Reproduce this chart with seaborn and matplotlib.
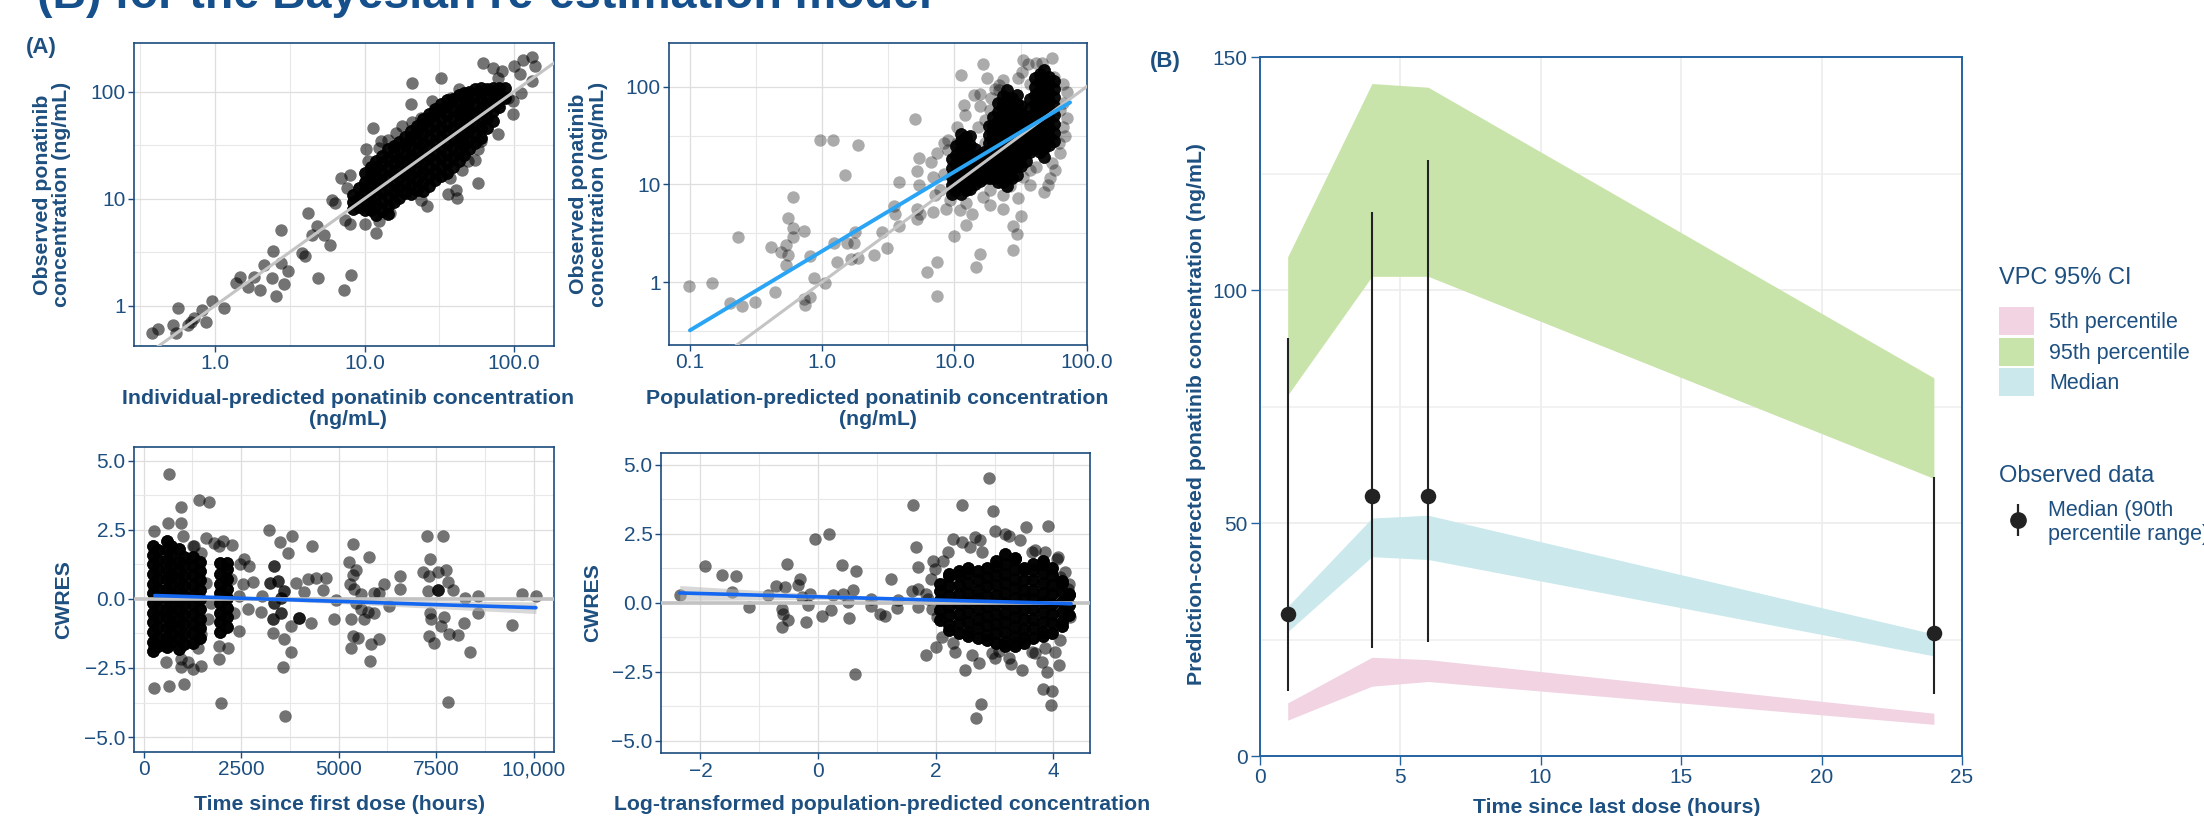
import numpy as np
import pandas as pd
import matplotlib
matplotlib.use("Agg")
import matplotlib.pyplot as plt
import seaborn as sns
from matplotlib.patches import Patch
from matplotlib.lines import Line2D
from matplotlib.legend_handler import HandlerTuple

# ---------------- data ----------------
# (A) top-left: observed vs individual-predicted, log10 ng/mL
tl_ipred_log10 = [-0.42, -0.38, -0.28, -0.25, -0.26, -0.18, -0.16, -0.14, -0.09, -0.06,
                  -0.02, 0.06, 0.14, 0.17, 0.22, 0.26, 0.30, 0.33, 0.38, 0.39,
                  0.41, 0.44, 0.46, 0.49, 0.44, 0.58, 0.60, 0.62, 0.65, 0.68,
                  0.69, 0.73, 0.77, 0.78, 0.80, 0.86, 0.91, 0.84, 0.88, 0.87,
                  0.90, 1.00, 1.08, 1.10, 1.17, 1.06, 1.01, 1.11, 1.10, 1.02,
                  1.21, 1.32, 1.31, 1.32, 1.45, 1.51, 1.42, 1.38, 1.56, 1.62,
                  1.61, 1.57, 1.65, 1.69, 1.74, 1.76, 1.89, 1.99, 1.99, 2.05,
                  2.12, 1.79, 1.86, 2.00, 2.06, 2.12, 2.14, 2.04, 1.92, 1.89,
                  1.63, 1.58, 1.47, 1.38, 1.25, 1.16, 1.09, 1.00, 0.90, 1.76,
                  1.78, 1.89, 1.96]
tl_obs_log10 = [-0.26, -0.22, -0.18, -0.02, -0.26, -0.18, -0.15, -0.12, -0.04, -0.15,
                0.04, -0.02, 0.21, 0.27, 0.17, 0.27, 0.15, 0.38, 0.26, 0.51,
                0.09, 0.40, 0.20, 0.32, 0.71, 0.49, 0.46, 0.87, 0.66, 0.74,
                0.26, 0.66, 0.57, 0.99, 0.96, 0.15, 0.29, 1.19, 1.10, 0.80,
                0.76, 0.76, 0.68, 0.79, 0.87, 1.66, 1.46, 1.54, 1.47, 1.35,
                1.61, 2.08, 1.88, 1.72, 1.91, 2.13, 0.93, 0.99, 1.04, 1.01,
                1.08, 1.19, 1.27, 1.35, 1.36, 1.46, 1.60, 1.79, 1.91, 1.99,
                2.10, 2.27, 2.22, 2.24, 2.30, 2.32, 2.24, 2.16, 2.19, 2.13,
                2.02, 1.94, 1.83, 1.75, 1.68, 1.55, 1.18, 1.15, 1.22, 1.15,
                1.54, 1.89, 1.94]
# dense core (many overlapping observations), by column
tl_core_ipred_log10 = [0.92, 0.96, 1.00, 1.04, 1.08, 1.12, 1.16, 1.195, 1.23, 1.27, 1.31, 1.35, 1.39, 1.43,
                       1.47, 1.51, 1.55, 1.59, 1.63, 1.665, 1.70, 1.74, 1.78, 1.82, 1.86, 1.90, 1.94]
tl_core_obs_log10 = [[0.90, 0.97, 1.03],
                     [0.92, 1.01, 1.10],
                     [0.89, 0.98, 1.07, 1.16, 1.24],
                     [0.89, 0.98, 1.07, 1.16, 1.25, 1.30],
                     [0.85, 0.94, 1.03, 1.12, 1.21, 1.30, 1.35],
                     [0.88, 0.97, 1.06, 1.15, 1.24, 1.33, 1.40],
                     [0.86, 0.93, 1.02, 1.11, 1.20, 1.29, 1.38, 1.46],
                     [0.97, 1.06, 1.15, 1.24, 1.33, 1.42, 1.49],
                     [1.01, 1.10, 1.19, 1.28, 1.37, 1.46, 1.53],
                     [1.05, 1.14, 1.23, 1.32, 1.41, 1.50, 1.58],
                     [1.04, 1.13, 1.22, 1.31, 1.40, 1.49, 1.58, 1.63],
                     [1.08, 1.17, 1.26, 1.35, 1.44, 1.53, 1.62, 1.68],
                     [1.07, 1.16, 1.25, 1.34, 1.43, 1.52, 1.61, 1.70, 1.74],
                     [1.12, 1.21, 1.30, 1.39, 1.48, 1.57, 1.66, 1.75, 1.79],
                     [1.17, 1.26, 1.35, 1.44, 1.53, 1.62, 1.71, 1.80, 1.84],
                     [1.21, 1.30, 1.39, 1.48, 1.57, 1.66, 1.75, 1.84, 1.88],
                     [1.24, 1.33, 1.42, 1.51, 1.60, 1.69, 1.78, 1.87, 1.92],
                     [1.30, 1.39, 1.48, 1.57, 1.66, 1.75, 1.84, 1.93],
                     [1.35, 1.44, 1.53, 1.62, 1.71, 1.80, 1.89, 1.97],
                     [1.41, 1.50, 1.59, 1.68, 1.77, 1.86, 1.95, 1.99],
                     [1.46, 1.55, 1.64, 1.73, 1.82, 1.91, 2.00],
                     [1.52, 1.61, 1.70, 1.79, 1.88, 1.97, 2.02],
                     [1.57, 1.66, 1.75, 1.84, 1.93, 2.03],
                     [1.66, 1.75, 1.84, 1.93, 2.02],
                     [1.73, 1.82, 1.91, 2.00, 2.03],
                     [1.86, 1.95, 2.03],
                     [1.94, 2.03]]

# (A) top-right: observed vs population-predicted, log10 ng/mL
tr_pred_log10 = [-1.01, -0.83, -0.70, -0.61, -0.51, -0.64, -0.39, -0.36, -0.31, -0.26,
                 -0.27, -0.26, -0.27, -0.22, -0.22, -0.22, -0.14, -0.09, -0.14, -0.13,
                 -0.09, -0.06, 0.02, -0.02, 0.08, 0.27, 0.17, 0.09, 0.11, 0.19,
                 0.22, 0.24, 0.25, 0.27, 0.39, 0.45, 0.49, 0.54, 0.55, 0.58,
                 0.58, 0.70, 0.73, 0.72, 0.73, 0.72, 0.72, 0.74, 0.79, 0.87,
                 0.87, 0.84, 0.85, 1.00, 1.09, 1.16, 1.19, 1.44, 1.47, 1.44,
                 1.50, 1.48, 1.37, 1.27, 1.05, 1.22, 1.25, 1.15, 1.19, 1.07,
                 1.19, 1.08, 1.28, 1.31, 1.52, 1.56, 1.51, 1.66, 1.74, 1.75,
                 1.85, 1.85, 1.82, 1.76, 1.72, 1.68, 1.71, 1.57, 1.42, 1.22,
                 1.13, 1.04, 0.94, 0.89, 0.82, 0.87, 0.95, 0.95, 0.92, 0.99,
                 1.60, 1.52, 1.79, 1.80, 1.34,
                 0.92, 1.02, 1.27, 1.37, 1.57, 1.58, 1.82, 1.80, 1.74, 1.57,
                 1.37, 1.27, 1.09, 0.97, 0.84, 1.84, 1.62, 1.52, 1.23, 1.18,
                 1.34, 1.48, 1.62, 1.82, 1.02, 1.23]
tr_obs_log10 = [-0.04, -0.01, -0.21, -0.25, -0.20, 0.46, 0.36, -0.10, 0.31, 0.66,
                0.38, 0.28, 0.17, 0.87, 0.55, 0.46, 0.52, 0.27, -0.17, -0.24,
                -0.15, 0.04, -0.01, 1.45, 1.45, 1.40, 1.10, 0.40, 0.20, 0.40,
                0.24, 0.40, 0.51, 0.25, 0.28, 0.51, 0.35, 0.78, 0.70, 0.57,
                1.02, 1.67, 1.27, 1.14, 0.99, 0.75, 0.65, 0.70, 0.10, 0.20,
                -0.14, 0.72, 0.89, 0.47, 0.58, 0.15, 0.29, 0.33, 0.49, 0.57,
                0.68, 0.86, 0.75, 0.79, 2.12, 2.23, 2.09, 1.92, 1.93, 1.81,
                1.80, 1.71, 1.88, 1.98, 2.27, 2.23, 2.15, 2.24, 2.29, 2.10,
                1.95, 1.68, 1.59, 1.15, 1.06, 0.92, 0.99, 1.15, 0.98, 0.87,
                0.70, 0.74, 0.75, 0.94, 1.23, 1.32, 1.45, 1.35, 1.11, 0.94,
                1.35, 1.42, 1.42, 1.76, 2.02,
                1.42, 1.59, 1.76, 2.07, 2.03, 1.71, 1.83, 1.32, 1.22, 0.99,
                0.89, 0.94, 0.81, 0.84, 1.08, 1.49, 1.18, 1.08, 1.66, 1.59,
                1.97, 2.09, 2.24, 2.03, 1.42, 1.42]
tr_core_pred_log10 = [0.98, 1.015, 1.05, 1.085, 1.12, 1.155, 1.19, 1.225, 1.26, 1.295, 1.33, 1.365,
                      1.40, 1.435, 1.47, 1.505, 1.54, 1.575, 1.61, 1.645, 1.68, 1.715, 1.75]
tr_core_obs_log10 = [[0.90, 0.99, 1.08, 1.17, 1.26],
                     [0.94, 1.03, 1.12, 1.21, 1.30, 1.39],
                     [0.90, 0.99, 1.08, 1.17, 1.26, 1.35, 1.44, 1.52],
                     [0.94, 1.03, 1.12, 1.21, 1.30, 1.39, 1.48],
                     [0.95, 1.04, 1.13, 1.22, 1.31, 1.40, 1.49],
                     [1.00, 1.09, 1.18, 1.27, 1.36],
                     [1.03, 1.12, 1.21, 1.30],
                     [1.06, 1.15, 1.24, 1.33],
                     [1.06, 1.15, 1.24, 1.33, 1.42, 1.51, 1.60],
                     [1.06, 1.15, 1.24, 1.33, 1.42, 1.51, 1.60, 1.69],
                     [1.02, 1.11, 1.20, 1.29, 1.38, 1.47, 1.56, 1.65, 1.74, 1.83],
                     [1.02, 1.11, 1.20, 1.29, 1.38, 1.47, 1.56, 1.65, 1.74, 1.83, 1.90],
                     [0.98, 1.07, 1.16, 1.25, 1.34, 1.43, 1.52, 1.61, 1.70, 1.79, 1.88, 1.97],
                     [1.07, 1.16, 1.25, 1.34, 1.43, 1.52, 1.61, 1.70, 1.79, 1.88],
                     [1.10, 1.19, 1.28, 1.37, 1.46, 1.55, 1.64, 1.73, 1.82, 1.91],
                     [1.19, 1.28, 1.37, 1.46, 1.55, 1.64, 1.73, 1.80],
                     [1.24, 1.33, 1.42, 1.51, 1.60, 1.69],
                     [1.33, 1.42, 1.51, 1.60, 1.69, 1.78, 1.87],
                     [1.37, 1.46, 1.55, 1.64, 1.73, 1.82, 1.91, 2.00, 2.09],
                     [1.33, 1.42, 1.51, 1.60, 1.69, 1.78, 1.87, 1.96, 2.05, 2.13],
                     [1.28, 1.37, 1.46, 1.55, 1.64, 1.73, 1.82, 1.91, 2.00, 2.09, 2.17],
                     [1.40, 1.49, 1.58, 1.67, 1.76, 1.85, 1.94, 2.03, 2.10],
                     [1.44, 1.53, 1.62, 1.71, 1.80, 1.89, 1.98, 2.06]]
tr_fit_pred = [0.1, 75.0]
tr_fit_obs = [0.32, 69.0]
identity = [0.01, 1000.0]

# (A) bottom-left: CWRES vs time since first dose (h)
bl_time = [658, 1411, 1667, 958, 616, 958, 274, 1000, 1599, 2026,
           2257, 1941, 1257, 3223, 3497, 3805, 4309, 3694, 2582, 2480,
           2710, 2796, 2539, 3035, 3010, 2668, 2454, 3309, 3608, 3779,
           3565, 3625, 1984, 1941, 2155, 1924, 1471, 1257, 1026, 641,
           274, 573, 958, 1471, 1385, 3907, 4207, 4420, 4677, 4592,
           4121, 4292, 3993, 3779, 4891, 4933, 5361, 5258, 5446, 5361,
           5301, 5404, 5575, 5446, 5575, 5746, 5318, 5660, 5917, 5361,
           5318, 5489, 5831, 6045, 5814, 5788, 5899, 6173, 6301, 6584,
           6584, 6045, 7268, 7669, 7345, 7157, 7328, 7755, 7541, 7814,
           7285, 7558, 7926, 7353, 7712, 7370, 7627, 7840, 8054, 7328,
           7456, 8208, 8371, 7814, 8251, 8567, 8567, 9439, 9696, 10063,
           958, 1128, 573, 274, 1599, 1727, 1642, 2326, 2454, 2240,
           1813, 1471, 1300]
bl_cwres = [4.51, 3.58, 3.52, 3.34, 2.76, 2.76, 2.44, 2.26, 2.20, 2.10,
            1.96, 1.92, 1.92, 2.50, 2.04, 2.28, 1.90, 1.66, 1.44, 1.27,
            1.18, 0.60, 0.52, 0.10, -0.48, -0.38, -1.16, -1.22, -1.44, -1.94,
            -2.48, -4.25, -3.75, -2.18, -1.76, -1.70, -2.42, -2.52, -3.09, -3.15,
            -3.24, -2.30, -2.48, -1.28, -1.76, 0.58, 0.72, 0.76, 0.76, 0.31,
            0.24, -0.89, -0.68, -0.98, -0.72, -0.05, 1.98, 1.32, 1.03, 0.88,
            0.52, 0.34, 0.16, -0.14, -0.38, -0.47, -0.74, -0.74, -0.50, -1.34,
            -1.76, -1.40, -1.64, -1.44, -2.24, 1.50, 0.22, 0.52, -0.26, 0.82,
            0.34, 0.22, 2.28, 2.26, 1.44, 0.96, 0.84, 1.03, 0.96, 0.60,
            0.28, 0.31, 0.31, -0.50, -0.65, -0.74, -0.98, -1.28, -1.31, -1.34,
            -1.58, -0.89, -1.91, -3.72, 0.04, 0.12, -0.50, -0.95, 0.19, 0.12,
            -2.18, -2.30, -1.70, -1.70, 0.58, -0.14, -0.74, -0.50, 0.10, 0.70,
            2.02, 1.66, 1.90]
bl_dark_time = [3335, 3249, 3437, 3608, 3309, 3523, 3993, 3352, 3523, 7541]
bl_dark_cwres = [1.20, 0.58, 0.64, 0.28, -0.74, -0.50, -0.68, -0.14, 0.04, 0.31]
bl_core_time = [231, 376, 590, 701, 915, 1043, 1257, 1454, 1967, 2138]
bl_core_cwres = [[-1.9, -1.55, -1.2, -0.85, -0.5, -0.15, 0.2, 0.55, 0.9, 1.25, 1.6, 1.9],
                 [-1.72, -1.37, -1.02, -0.67, -0.32, 0.02, 0.37, 0.72, 1.07, 1.42, 1.75],
                 [-1.75, -1.4, -1.05, -0.7, -0.35, 0.0, 0.35, 0.7, 1.05, 1.4, 1.75, 2.1],
                 [-1.57, -1.22, -0.87, -0.52, -0.17, 0.17, 0.52, 0.87, 1.22, 1.57, 1.92],
                 [-1.8, -1.45, -1.1, -0.75, -0.4, -0.05, 0.3, 0.65, 1.0, 1.35, 1.8],
                 [-1.62, -1.27, -0.92, -0.57, -0.22, 0.12, 0.47, 0.82, 1.17, 1.52],
                 [-1.6, -1.25, -0.9, -0.55, -0.2, 0.15, 0.5, 0.85, 1.2, 1.5],
                 [-1.42, -1.07, -0.72, -0.37, -0.02, 0.32, 0.67, 1.02, 1.35],
                 [-1.2, -0.85, -0.5, -0.15, 0.2, 0.55, 0.9, 1.3],
                 [-1.02, -0.67, -0.32, 0.02, 0.37, 0.72, 1.07, 1.3]]
bl_fit_time = [290, 2000, 5000, 7500, 10060]
bl_fit = [0.12, 0.045, -0.09, -0.21, -0.32]
bl_fit_lo = [0.06, 0.015, -0.17, -0.35, -0.53]
bl_fit_hi = [0.18, 0.075, -0.01, -0.07, -0.11]

# (A) bottom-right: CWRES vs log-transformed population prediction
br_pred = [-2.35, -1.93, -1.63, -1.40, -1.47, -1.18, -0.72, -0.85, -0.57, -0.53,
           -0.34, -0.31, -0.28, -0.14, -0.62, -0.59, -0.51, -0.62, -0.21, -0.17,
           -0.05, 0.18, 0.40, 0.64, 0.06, 0.22, 0.26, 0.43, 0.51, 0.60,
           0.53, 0.62, 0.90, 0.90, 1.05, 1.14, 1.24, 1.34, 1.36, 1.62,
           1.66, 1.60, 1.70, 1.70, 1.70, 1.83, 1.92, 2.13, 1.96, 1.83,
           2.00, 2.02, 2.29, 2.44, 2.67, 2.75, 3.00, 3.18, 2.91, 2.98,
           3.54, 3.90, 3.69, 4.08, 4.25, 4.29, 4.23, 2.49, 2.74, 2.61,
           2.30, 2.77, 2.68, 3.28, 3.46, 3.63, 3.83, 3.98, 3.96, 3.89,
           4.09, 4.12, 2.95, 3.07, 3.86, 4.12, 4.26, 3.35, 3.69, 3.80,
           2.44, 2.21, 2.58, 2.78, 3.24, 3.43, 3.63, 3.86, 4.06, 4.20,
           1.99, 1.87, 1.93, 2.10, 2.33, 3.01, 3.24, 4.03]
br_cwres = [0.27, 1.33, 1.01, 0.96, 0.39, -0.16, 0.60, 0.27, 0.57, 1.41,
            0.65, 0.84, 0.20, 0.33, -0.22, -0.40, -0.64, -0.90, -0.70, -0.10,
            2.29, 2.49, 1.35, 1.14, -0.48, -0.28, 0.29, 0.33, 0.02, 0.45,
            -0.54, -2.60, 0.14, -0.12, -0.40, -0.48, 0.87, -0.19, 0.08, 3.55,
            2.01, 0.41, 0.51, -0.16, 1.29, 0.33, 0.87, 1.49, 1.49, -1.90,
            -1.60, -0.52, 2.29, 3.52, 2.37, 2.25, 2.59, 2.49, 4.52, 3.31,
            2.73, 2.77, 1.89, 1.67, 0.51, -0.52, 0.02, -2.45, -2.18, -1.90,
            -1.48, -3.67, -4.19, -2.24, -2.45, -1.78, -3.13, -3.20, -3.71, -2.51,
            -2.27, -1.36, -1.84, -1.76, -1.66, 0.93, 0.69, -1.48, -1.84, -2.14,
            2.19, 1.83, 2.01, 1.83, 2.43, 2.25, 1.83, 1.83, 1.59, 1.11,
            1.23, 0.14, -0.22, -1.24, -1.78, -2.02, -2.02, -1.78]
br_core_pred = [2.07, 2.23, 2.39, 2.55, 2.71, 2.87, 3.03, 3.18, 3.34, 3.50, 3.66, 3.82, 3.98, 4.14, 4.27]
br_core_cwres = [[-0.62, -0.27, 0.08, 0.43, 0.67],
                 [-0.98, -0.81, -0.46, -0.11, 0.25, 0.60, 0.95, 1.03],
                 [-1.1, -0.75, -0.4, -0.05, 0.3, 0.65, 1.0, 1.15],
                 [-1.22, -1.05, -0.70, -0.35, 0.01, 0.36, 0.71, 1.06, 1.27],
                 [-1.28, -0.93, -0.58, -0.23, 0.12, 0.47, 0.82, 1.15],
                 [-1.34, -1.17, -0.82, -0.47, -0.12, 0.24, 0.59, 0.94, 1.27],
                 [-1.46, -1.11, -0.76, -0.41, -0.06, 0.29, 0.64, 0.99, 1.34, 1.51],
                 [-1.58, -1.41, -1.06, -0.71, -0.36, -0.01, 0.35, 0.70, 1.05, 1.40, 1.75],
                 [-1.58, -1.23, -0.88, -0.53, -0.18, 0.17, 0.52, 0.87, 1.22, 1.57, 1.63],
                 [-1.46, -1.29, -0.94, -0.59, -0.24, 0.12, 0.47, 0.82, 1.17, 1.27],
                 [-1.28, -0.93, -0.58, -0.23, 0.12, 0.47, 0.82, 1.17, 1.39],
                 [-1.22, -1.05, -0.70, -0.35, 0.01, 0.36, 0.71, 1.06, 1.41, 1.51],
                 [-1.1, -0.75, -0.4, -0.05, 0.3, 0.65, 1.0, 1.27],
                 [-0.86, -0.69, -0.34, 0.02, 0.37, 0.72, 0.79],
                 [-0.44, -0.09, 0.26, 0.31]]
br_fit_pred = [-2.35, 0.0, 2.5, 3.3, 4.3]
br_fit = [0.35, 0.21, 0.065, 0.02, -0.04]
br_fit_lo = [0.08, 0.11, 0.025, -0.01, -0.08]
br_fit_hi = [0.62, 0.31, 0.105, 0.05, 0.0]

# (B) pcVPC
vpc_time = [1, 4, 6, 24]
p5_lo = [7.7, 15.0, 16.0, 6.8]
p5_hi = [11.4, 21.2, 20.7, 9.2]
med_lo = [26.7, 42.8, 42.2, 21.5]
med_hi = [32.1, 51.1, 51.7, 26.2]
p95_lo = [77.5, 103.0, 103.0, 59.6]
p95_hi = [107.2, 144.4, 143.6, 81.2]
obs_time = [1, 4, 6, 24]
obs_median = [30.5, 55.8, 55.8, 26.5]
obs_p5 = [13.9, 23.3, 24.4, 13.3]
obs_p95 = [89.8, 116.8, 128.0, 60.0]
vpc_labels = ["5th percentile", "95th percentile", "Median"]

# ---------------- styling ----------------
W, H = 2204, 816
NAVY = "#1b4b7c"
BLUE_B = "#2563a0"
TEXT = "#1d4f80"
TITLE = "#15508c"
PINK, GREEN, CYAN = "#f1d3e2", "#c9e4aa", "#cbe9ed"
DOT = "#222222"

sns.set_theme(style="white")
plt.rcParams["font.family"] = ["Liberation Sans", "DejaVu Sans"]

PT_SIZE = 80


def core_points(cols_x, cols_y, reps):
    xs, ys = [], []
    for x, col in zip(cols_x, cols_y):
        for y in col:
            xs += [x] * reps
            ys += [y] * reps
    return xs, ys


def style_axis(ax, spine_color, tick_len=4):
    for s in ax.spines.values():
        s.set_visible(True)
        s.set_color(spine_color)
        s.set_linewidth(1.2)
    ax.tick_params(which="major", direction="out", length=tick_len, width=1,
                   color=spine_color, labelcolor=TEXT, labelsize=15, pad=2,
                   bottom=True, left=True)
    ax.tick_params(which="minor", length=0, bottom=False, left=False)
    ax.grid(which="major", color="#dedede", lw=0.9)
    ax.grid(which="minor", color="#e8e8e8", lw=0.8)
    ax.set_axisbelow(True)
    ax.set_xlabel("")
    ax.set_ylabel("")


def axis_title(ax, x, y, text, rotation=0, ls=1.15):
    ax.text(x, y, text, transform=ax.transAxes, rotation=rotation, ha="center", va="center",
            fontsize=15.3, fontweight="bold", color=TEXT, linespacing=ls, multialignment="center")


fig = plt.figure(figsize=(W / 100, H / 100), dpi=100)
ax_tl = fig.add_axes([0.0608, 0.5760, 0.1906, 0.3710])
ax_tr = fig.add_axes([0.3035, 0.5772, 0.1897, 0.3697])
ax_bl = fig.add_axes([0.0608, 0.0784, 0.1906, 0.3734])
ax_br = fig.add_axes([0.2999, 0.0768, 0.1946, 0.3684])
ax_b = fig.add_axes([0.5715, 0.0735, 0.3187, 0.8561])

# --- top-left
cx, cy = core_points(tl_core_ipred_log10, tl_core_obs_log10, 4)
tl = pd.DataFrame({"ipred": 10 ** np.array(tl_ipred_log10 + cx), "obs": 10 ** np.array(tl_obs_log10 + cy)})
ax_tl.set_xscale("log")
ax_tl.set_yscale("log")
sns.scatterplot(data=tl, x="ipred", y="obs", ax=ax_tl, color="black", alpha=0.55,
                s=PT_SIZE, linewidth=0, legend=False, zorder=2)
sns.lineplot(x=identity, y=identity, ax=ax_tl, color="#c4c4c4", linewidth=2.2, zorder=3)
ax_tl.set_xlim(10 ** -0.542, 10 ** 2.268)
ax_tl.set_ylim(10 ** -0.377, 10 ** 2.452)
ax_tl.set_xticks([1, 10, 100], labels=["1.0", "10.0", "100.0"])
ax_tl.set_yticks([1, 10, 100], labels=["1", "10", "100"])
ax_tl.set_xticks([10 ** -0.5, 10 ** 0.5, 10 ** 1.5], minor=True)
ax_tl.set_yticks([10 ** 0.5, 10 ** 1.5], minor=True)
style_axis(ax_tl, NAVY)
axis_title(ax_tl, -0.195, 0.5, "Observed ponatinib\nconcentration (ng/mL)", rotation=90, ls=1.05)
axis_title(ax_tl, 0.51, -0.207, "Individual-predicted ponatinib concentration\n(ng/mL)")

# --- top-right
cx, cy = core_points(tr_core_pred_log10, tr_core_obs_log10, 7)
tr = pd.DataFrame({"pred": 10 ** np.array(tr_pred_log10 + cx), "obs": 10 ** np.array(tr_obs_log10 + cy)})
ax_tr.set_xscale("log")
ax_tr.set_yscale("log")
sns.scatterplot(data=tr, x="pred", y="obs", ax=ax_tr, color="black", alpha=0.33,
                s=PT_SIZE, linewidth=0, legend=False, zorder=2)
sns.lineplot(x=identity, y=identity, ax=ax_tr, color="#c4c4c4", linewidth=2.2, zorder=3)
sns.lineplot(x=tr_fit_pred, y=tr_fit_obs, ax=ax_tr, color="#2aa4f4", linewidth=2.8, zorder=4)
ax_tr.set_xlim(10 ** -1.159, 10 ** 2.003)
ax_tr.set_ylim(10 ** -0.645, 10 ** 2.444)
ax_tr.set_xticks([0.1, 1, 10, 100], labels=["0.1", "1.0", "10.0", "100.0"])
ax_tr.set_yticks([1, 10, 100], labels=["1", "10", "100"])
ax_tr.set_xticks([10 ** -0.5, 10 ** 0.5, 10 ** 1.5], minor=True)
ax_tr.set_yticks([10 ** -0.5, 10 ** 0.5, 10 ** 1.5], minor=True)
style_axis(ax_tr, NAVY)
axis_title(ax_tr, -0.192, 0.5, "Observed ponatinib\nconcentration (ng/mL)", rotation=90, ls=1.05)
axis_title(ax_tr, 0.499, -0.212, "Population-predicted ponatinib concentration\n(ng/mL)")

cw_ticks = [-5, -2.5, 0, 2.5, 5]
cw_labels = ["\u22125.0", "\u22122.5", "0.0", "2.5", "5.0"]
cw_minor = [-3.75, -1.25, 1.25, 3.75]

# --- bottom-left
cx, cy = core_points(bl_core_time, bl_core_cwres, 5)
dx, dy = core_points(bl_dark_time, [[v] for v in bl_dark_cwres], 2)
bl = pd.DataFrame({"time": bl_time + cx + dx, "cwres": bl_cwres + cy + dy})
sns.scatterplot(data=bl, x="time", y="cwres", ax=ax_bl, color="black", alpha=0.55,
                s=PT_SIZE, linewidth=0, legend=False, zorder=2)
ax_bl.axhline(0, color="#c2c2c2", linewidth=2.6, zorder=3)
ax_bl.fill_between(bl_fit_time, bl_fit_lo, bl_fit_hi, color="#b8b8b8", alpha=0.55, linewidth=0, zorder=3)
sns.lineplot(x=bl_fit_time, y=bl_fit, ax=ax_bl, color="#1467f0", linewidth=2.6, zorder=4)
ax_bl.set_xlim(-244, 10526)
ax_bl.set_ylim(-5.54, 5.48)
ax_bl.set_xticks([0, 2500, 5000, 7500, 10000], labels=["0", "2500", "5000", "7500", "10,000"])
ax_bl.set_xticks([1250, 3750, 6250, 8750], minor=True)
ax_bl.set_yticks(cw_ticks, labels=cw_labels)
ax_bl.set_yticks(cw_minor, minor=True)
style_axis(ax_bl, NAVY)
axis_title(ax_bl, -0.167, 0.502, "CWRES", rotation=90)
axis_title(ax_bl, 0.488, -0.171, "Time since first dose (hours)")

# --- bottom-right
cx, cy = core_points(br_core_pred, br_core_cwres, 5)
br = pd.DataFrame({"pred": br_pred + cx, "cwres": br_cwres + cy})
sns.scatterplot(data=br, x="pred", y="cwres", ax=ax_br, color="black", alpha=0.55,
                s=PT_SIZE, linewidth=0, legend=False, zorder=2)
ax_br.axhline(0, color="#c2c2c2", linewidth=2.6, zorder=3)
ax_br.fill_between(br_fit_pred, br_fit_lo, br_fit_hi, color="#b8b8b8", alpha=0.55, linewidth=0, zorder=3)
sns.lineplot(x=br_fit_pred, y=br_fit, ax=ax_br, color="#1467f0", linewidth=2.6, zorder=4)
ax_br.set_xlim(-2.67, 4.62)
ax_br.set_ylim(-5.46, 5.43)
ax_br.set_xticks([-2, 0, 2, 4], labels=["\u22122", "0", "2", "4"])
ax_br.set_xticks([-1, 1, 3], minor=True)
ax_br.set_yticks(cw_ticks, labels=cw_labels)
ax_br.set_yticks(cw_minor, minor=True)
style_axis(ax_br, NAVY)
axis_title(ax_br, -0.159, 0.5, "CWRES", rotation=90)
axis_title(ax_br, 0.515, -0.169, "Log-transformed population-predicted concentration")

# --- (B) VPC
for lo, hi, col in [(p5_lo, p5_hi, PINK), (p95_lo, p95_hi, GREEN), (med_lo, med_hi, CYAN)]:
    ax_b.fill_between(vpc_time, lo, hi, color=col, linewidth=0, zorder=1)
ax_b.vlines(obs_time, obs_p5, obs_p95, color=DOT, linewidth=1.5, zorder=3)
sns.scatterplot(x=obs_time, y=obs_median, ax=ax_b, color=DOT, s=125, linewidth=0, zorder=4, legend=False)
ax_b.set_xlim(0, 25)
ax_b.set_ylim(0, 150)
ax_b.set_xticks([0, 5, 10, 15, 20, 25])
ax_b.set_yticks([0, 50, 100, 150])
ax_b.set_yticks([25, 75, 125], minor=True)
style_axis(ax_b, BLUE_B, tick_len=6.5)
ax_b.grid(which="major", color="#ececec", lw=1.2)
ax_b.grid(which="minor", axis="y", color="#f0f0f0", lw=1.2)
ax_b.grid(which="minor", axis="x", visible=False)
for s in ax_b.spines.values():
    s.set_linewidth(1.4)
axis_title(ax_b, -0.0897, 0.489, "Prediction-corrected ponatinib concentration (ng/mL)", rotation=90)
axis_title(ax_b, 0.509, -0.074, "Time since last dose (hours)")

# legends
fig.text(1999 / W, 1 - 267.5 / H, "VPC 95% CI", fontsize=17, color=TEXT, ha="left", va="top")
handles = [Patch(facecolor=c, edgecolor="none") for c in (PINK, GREEN, CYAN)]
leg1 = ax_b.legend(handles, vpc_labels, loc="upper left", bbox_to_anchor=(1999 / W, 1 - 307 / H),
                   bbox_transform=fig.transFigure, frameon=False, fontsize=15.5, labelcolor=TEXT,
                   handlelength=1.63, handleheight=1.63, labelspacing=0.12, handletextpad=0.7,
                   borderpad=0, borderaxespad=0)
ax_b.add_artist(leg1)

fig.text(1999 / W, 1 - 464.5 / H, "Observed data", fontsize=17, color=TEXT, ha="left", va="top")
obs_handle = (Line2D([], [], marker="|", markersize=23, markeredgewidth=1.6, color=DOT, linestyle="none"),
              Line2D([], [], marker="o", markersize=11, color=DOT, linestyle="none"))
leg2 = ax_b.legend([obs_handle], ["Median (90th\npercentile range)"], loc="upper left",
                   bbox_to_anchor=(2003 / W, 1 - 500 / H), bbox_transform=fig.transFigure,
                   frameon=False, fontsize=15.5, labelcolor=TEXT, handlelength=1.4,
                   handleheight=1.5, handletextpad=0.7, borderpad=0, borderaxespad=0,
                   handler_map={tuple: HandlerTuple(ndivide=1)})

# panel labels and (cropped) figure title
fig.text(37 / W, 1 - 8.5 / H, "(B) for the Bayesian re-estimation model", fontsize=33.5,
         fontweight="bold", color=TITLE, ha="left", va="baseline")
fig.text(26 / W, 1 - 48 / H, "(A)", fontsize=16, fontweight="bold", color=TEXT, ha="left", va="center")
fig.text(1150 / W, 1 - 62 / H, "(B)", fontsize=16, fontweight="bold", color=TEXT, ha="left", va="center")

fig.savefig("out.png", dpi=100)
